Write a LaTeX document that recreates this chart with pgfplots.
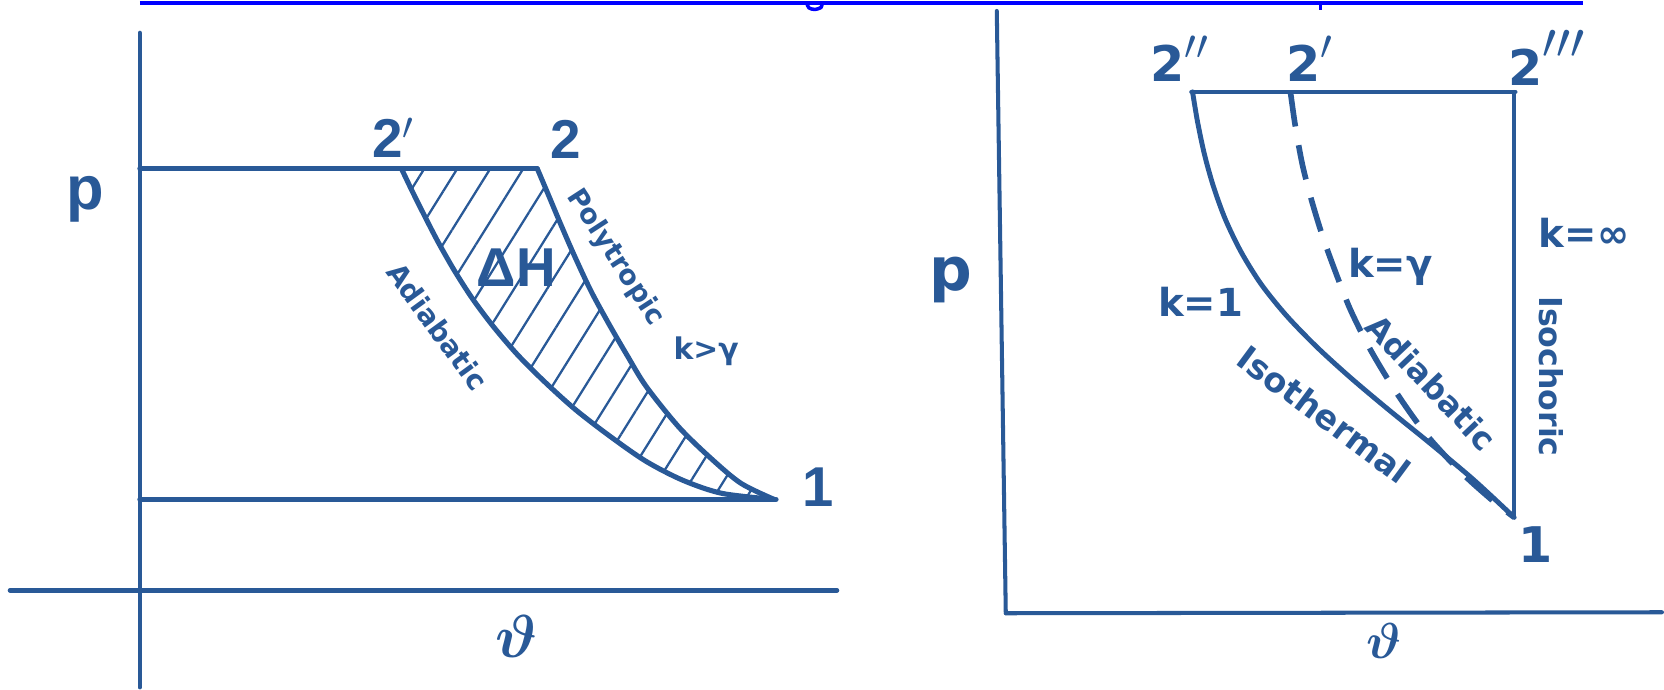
\documentclass[border=0pt]{standalone}
\usepackage{bm}
\usepackage{fontspec}
\setmainfont{DejaVu Sans}
\newfontfamily\lib{Liberation Sans}
\usepackage{pgfplots}
\pgfplotsset{compat=1.18}
\usepgfplotslibrary{fillbetween}
\usetikzlibrary{patterns.meta}
\definecolor{ink}{RGB}{41,89,151}
\newcommand\fs[1]{\fontsize{#1}{#1}\selectfont}
\newcommand\vth{\ensuremath{\bm{\vartheta}}}

\begin{document}
\begin{tikzpicture}
\begin{axis}[
  scale only axis,
  width=16.64cm, height=6.88cm,
  xmin=0, xmax=1664, ymin=0, ymax=688,
  y dir=reverse,
  hide axis,
  clip=false,
  every axis plot/.append style={ink, line cap=round, line join=round, mark=none},
]
% page frame (keeps the bounding box)
\addplot[draw=none] coordinates {(0,0) (1664,688)};

% link underline at the top
\addplot[blue, line width=1.15pt, line cap=butt] coordinates {(140,3) (1585,3)};
\addplot[blue, line width=1pt, smooth] coordinates {(808,4) (810,8) (816,9.5) (822,7.5) (823,4)};
\addplot[blue, line width=1pt, line cap=butt] coordinates {(1322,4) (1322,10)};

% ---------- left panel ----------
\addplot[line width=1.3pt] coordinates {(140,33) (140,688)};
\addplot[line width=1.3pt] coordinates {(10,591) (838,591)};
\addplot[line width=1.45pt] coordinates {(140,169) (538,169)};
\addplot[line width=1.45pt] coordinates {(140,500) (777,500)};
\addplot[name path=adia, line width=1.45pt, smooth] coordinates {
  (402,169) (413,192) (425,216) (439,243) (455,271) (473,299) (494,327)
  (518,355) (545,382) (576,410) (611,437) (647,462) (684,481) (723,494) (775,500)};
\addplot[name path=poly, line width=1.45pt, smooth] coordinates {
  (538,169) (549,195) (562,226) (576,258) (592,292) (610,325) (628,356)
  (647,387) (680,428) (713,460) (742,484) (775,500)};
\addplot[draw=none, pattern={Lines[angle=58, distance=0.28cm, line width=0.65pt]},
  pattern color=ink] fill between[of=adia and poly];

\node[ink, inner sep=0] at (axis cs:388,138) {\lib\bfseries\fs{15.6}2\rlap{$'$}};
\node[ink, inner sep=0] at (axis cs:566,140) {\lib\bfseries\fs{15.6}2};
\node[ink, inner sep=0] at (axis cs:819,488) {\lib\bfseries\fs{16}1};
\node[ink, inner sep=0] at (axis cs:85,200) {\lib\bfseries\fs{17.5}p};
\node[ink, inner sep=0] at (axis cs:517,637) {\fs{17}\vth};
\node[ink, inner sep=0] at (axis cs:517,268) {\lib\bfseries\fs{15.6}ΔH};
\node[ink, inner sep=0, rotate=-54] at (axis cs:438,327) {\bfseries\fs{8}Adiabatic};
\node[ink, inner sep=0, rotate=-57] at (axis cs:616,258) {\bfseries\fs{7.8}Polytropic};
\node[ink, inner sep=0] at (axis cs:707,352) {\bfseries\fs{8.5}k>γ};

% ---------- right panel ----------
\addplot[line width=1.15pt] coordinates {(998,11) (1007,614)};
\addplot[line width=1.15pt] coordinates {(1007,614) (1664,613)};
\addplot[line width=1.35pt] coordinates {(1193,92) (1517,92)};
\addplot[line width=1.1pt] coordinates {(1516,92) (1516,518)};
\addplot[line width=1.4pt, smooth] coordinates {
  (1194,92) (1199,122) (1206,155) (1215,187) (1227,220) (1243,253) (1263,285)
  (1288,316) (1318,347) (1352,378) (1390,410) (1432,444) (1475,480) (1516,518)};
\addplot[line width=1.6pt, smooth, line cap=butt, dash pattern=on 0.35cm off 0.19cm] coordinates {
  (1292,92) (1297,127) (1304,165) (1313,200) (1324,236) (1337,272) (1352,310)
  (1372,350) (1398,393) (1428,435) (1462,472) (1493,500) (1516,518)};

\node[ink, inner sep=0] at (axis cs:1169,59) {\bfseries\fs{14}2\rlap{\fs{18}$''$}};
\node[ink, inner sep=0] at (axis cs:1305,59) {\bfseries\fs{14}2\rlap{\fs{18}$'$}};
\node[ink, inner sep=0] at (axis cs:1527,58) {\bfseries\fs{14}2\rlap{\fs{22}$'''$}};
\node[ink, inner sep=0] at (axis cs:1537,545) {\bfseries\fs{14}1};
\node[ink, inner sep=0] at (axis cs:952,280) {\bfseries\fs{17}p};
\node[ink, inner sep=0] at (axis cs:1386,642) {\fs{15}\vth};
\node[ink, inner sep=0] at (axis cs:1202,302) {\bfseries\fs{11}k=1};
\node[ink, inner sep=0] at (axis cs:1392,267) {\bfseries\fs{11}k=γ};
\node[ink, inner sep=0] at (axis cs:1586,233) {\bfseries\fs{11}k=∞};
\node[ink, inner sep=0, rotate=-36.5] at (axis cs:1326,415) {\bfseries\fs{9.6}Isothermal};
\node[ink, inner sep=0, rotate=-46.5] at (axis cs:1433,383) {\bfseries\fs{9.2}Adiabatic};
\node[ink, inner sep=0, rotate=-90] at (axis cs:1553,377) {\bfseries\fs{9}Isochoric};
\end{axis}
\end{tikzpicture}
\end{document}
